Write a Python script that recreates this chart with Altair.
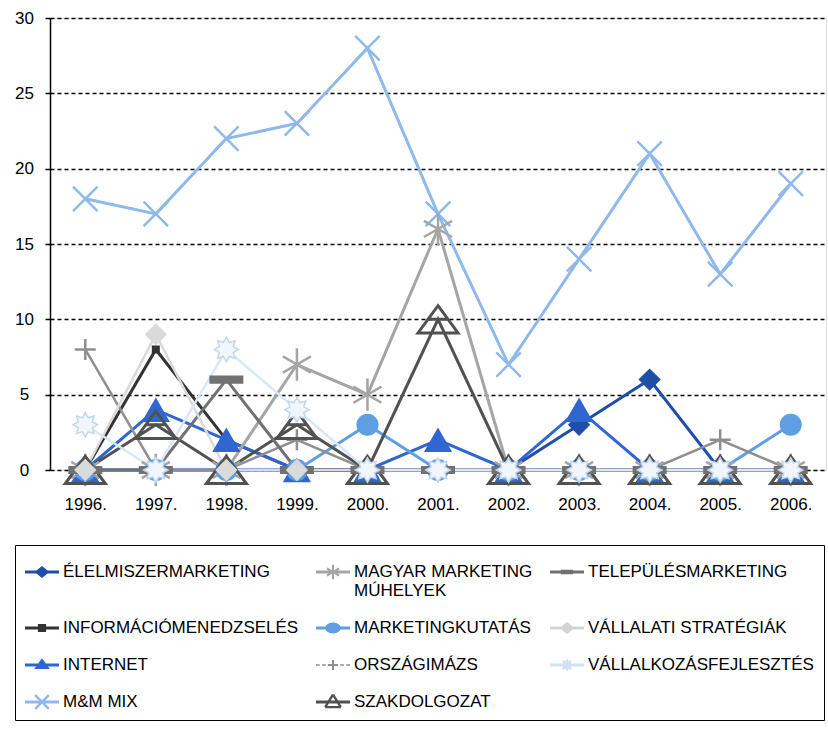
import math
import altair as alt
import pandas as pd

# ---------------- data ----------------
years = ["1996.", "1997.", "1998.", "1999.", "2000.", "2001.",
         "2002.", "2003.", "2004.", "2005.", "2006."]

elelmiszer = [0, 0, 0, 0, 0, 0, 0, 3, 6, 0, 0]
informacio = [0, 8, 2, 0, 0, 0, 0, 0, 0, 0, 0]
internet = [0, 4, 2, 0, 0, 2, 0, 4, 0, 0, 0]
mm_mix = [18, 17, 22, 23, 28, 17, 7, 14, 21, 13, 19]
magyar = [0, 0, 0, 7, 5, 16, 0, 0, 0, 0, 0]
kutatas = [0, 0, 0, 0, 3, 0, 0, 0, 0, 0, 3]
orszag = [8, 0, 0, 2, 0, 0, 0, 0, 0, 2, 0]
szakdolgozat = [0, 3, 0, 3, 0, 10, 0, 0, 0, 0, 0]
telepules = [0, 0, 6, 0, 0, 0, 0, 0, 0, 0, 0]
vallalati = [0, 9, 0, 0, 0, 0, 0, 0, 0, 0, 0]
vallalkozas = [3, 0, 8, 4, 0, 0, 0, 0, 0, 0, 0]

names = ["ÉLELMISZERMARKETING", "INFORMÁCIÓMENEDZSELÉS", "INTERNET", "M&M MIX",
         "MAGYAR MARKETING MÚHELYEK", "MARKETINGKUTATÁS", "ORSZÁGIMÁZS",
         "SZAKDOLGOZAT", "TELEPÜLÉSMARKETING", "VÁLLALATI STRATÉGIÁK",
         "VÁLLALKOZÁSFEJLESZTÉS"]
series_values = [elelmiszer, informacio, internet, mm_mix, magyar, kutatas,
                 orszag, szakdolgozat, telepules, vallalati, vallalkozas]

rows = []
for n, vals in zip(names, series_values):
    for y, v in zip(years, vals):
        rows.append({"series": n, "year": y, "value": v})
df = pd.DataFrame(rows)

# ---------------- styles ----------------
colors = {
    names[0]: "#1F4EA8",
    names[1]: "#333333",
    names[2]: "#2F66CF",
    names[3]: "#8EB9EA",
    names[4]: "#A5A5A5",
    names[5]: "#5E9FE3",
    names[6]: "#8F8F8F",
    names[7]: "#515151",
    names[8]: "#717171",
    names[9]: "#DADADA",
    names[10]: "#DCE7F5",
}
legend_colors = dict(colors)
legend_colors[names[9]] = "#D3D3D3"
legend_colors[names[10]] = "#D3E1F2"


def poly(pts):
    a = 0.0
    for i in range(len(pts)):
        x1, y1 = pts[i]
        x2, y2 = pts[(i + 1) % len(pts)]
        a += x1 * y2 - x2 * y1
    if a < 0:
        pts = pts[::-1]
    return "M" + "L".join(f"{x:.3f},{y:.3f}" for x, y in pts) + "Z"


def seg(x1, y1, x2, y2, w):
    dx, dy = x2 - x1, y2 - y1
    L = math.hypot(dx, dy)
    nx, ny = -dy / L * w, dx / L * w
    return poly([(x1 + nx, y1 + ny), (x2 + nx, y2 + ny),
                 (x2 - nx, y2 - ny), (x1 - nx, y1 - ny)])


def star_pts(ro, ri, n=8):
    pts = []
    for k in range(2 * n):
        r = ro if k % 2 == 0 else ri
        a = -math.pi / 2 + k * math.pi / n
        pts.append((r * math.cos(a), r * math.sin(a)))
    return pts


def star_path(ro, ri, n=8):
    return "M" + "L".join(f"{x:.3f},{y:.3f}" for x, y in star_pts(ro, ri, n)) + "Z"


# main chart marker shapes
X_PATH = "M-1,-1L1,1M-1,1L1,-1"
AST_PATH = "M0,-1L0,1M-0.866,-0.5L0.866,0.5M-0.866,0.5L0.866,-0.5"
PLUS_PATH = "M-1,0L1,0M0,-1L0,1"
TRI_OPEN = "M0,-0.68L1,0.68L-1,0.68Z M-0.5,0L0.5,0"
DASH_PATH = "M-1,-0.24L1,-0.24L1,0.24L-1,0.24Z"
STAR_PATH = star_path(1, 0.62)

marker = {
    names[0]: dict(shape="diamond", size=500, filled=True, color=colors[names[0]]),
    names[1]: dict(shape="square", size=64, filled=True, color=colors[names[1]]),
    names[2]: dict(shape="triangle-up", size=800, filled=True, color=colors[names[2]]),
    names[3]: dict(shape=X_PATH, size=600, filled=False, color=colors[names[3]], strokeWidth=2.5),
    names[4]: dict(shape=AST_PATH, size=1050, filled=False, color=colors[names[4]], strokeWidth=2.5),
    names[5]: dict(shape="circle", size=484, filled=True, color=colors[names[5]]),
    names[6]: dict(shape=PLUS_PATH, size=441, filled=False, color=colors[names[6]], strokeWidth=2.5),
    names[7]: dict(shape=TRI_OPEN, size=1600, filled=False, color=colors[names[7]], strokeWidth=3),
    names[8]: dict(shape=DASH_PATH, size=1156, filled=True, color=colors[names[8]]),
    names[9]: dict(shape="diamond", size=500, filled=True, color=colors[names[9]]),
    names[10]: dict(shape=STAR_PATH, size=600, filled=True, fill="#F1F6FC", stroke="#C3D6EE", strokeWidth=1.5),
}
line_width = {n: 3 for n in names}
line_width[names[6]] = 2.5
line_width[names[9]] = 2.5
line_width[names[10]] = 2.5

# legend symbols (filled polygons in a [-1,1] box)
LINE = seg(-1, 0, 1, 0, 0.09)
leg_paths = {
    names[0]: LINE + poly([(-0.44, 0), (0, -0.36), (0.44, 0), (0, 0.36)]),
    names[1]: LINE + poly([(-0.24, -0.24), (0.24, -0.24), (0.24, 0.24), (-0.24, 0.24)]),
    names[2]: LINE + poly([(0, -0.4), (0.46, 0.24), (-0.46, 0.24)]),
    names[3]: LINE + seg(-0.4, -0.4, 0.4, 0.4, 0.07) + seg(-0.4, 0.4, 0.4, -0.4, 0.07),
    names[4]: LINE + seg(0, -0.42, 0, 0.42, 0.06) + seg(-0.36, -0.21, 0.36, 0.21, 0.06)
              + seg(-0.36, 0.21, 0.36, -0.21, 0.06),
    names[5]: LINE + poly([(0.46 * math.cos(2 * math.pi * k / 24), 0.32 * math.sin(2 * math.pi * k / 24))
                           for k in range(24)]),
    names[6]: seg(-1, 0, -0.78, 0, 0.05) + seg(-0.64, 0, -0.42, 0, 0.05)
              + seg(0.42, 0, 0.64, 0, 0.05) + seg(0.78, 0, 1, 0, 0.05)
              + seg(-0.3, 0, 0.3, 0, 0.06) + seg(0, -0.3, 0, 0.3, 0.06),
    names[7]: LINE + seg(0, -0.44, 0.46, 0.3, 0.07) + seg(0.46, 0.3, -0.46, 0.3, 0.07)
              + seg(-0.46, 0.3, 0, -0.44, 0.07),
    names[8]: LINE + poly([(-0.36, -0.13), (0.36, -0.13), (0.36, 0.13), (-0.36, 0.13)]),
    names[9]: LINE + poly([(-0.44, 0), (0, -0.36), (0.44, 0), (0, 0.36)]),
    names[10]: LINE + poly(star_pts(0.4, 0.25)),
}

FONT = "Liberation Sans"

x_enc = alt.X("year:N", sort=years, scale=alt.Scale(domain=years),
              axis=alt.Axis(title=None, labelAngle=0, labelFont=FONT, labelFontSize=17,
                            labelColor="black", ticks=False, tickSize=0, domain=False,
                            grid=False, labelPadding=26))
y_enc = alt.Y("value:Q", scale=alt.Scale(domain=[0, 30], nice=False),
              axis=alt.Axis(title=None, values=[0, 5, 10, 15, 20, 25, 30], labelFont=FONT,
                            labelFontSize=17, labelColor="black", labelAlign="center",
                            labelPadding=21, tickSize=5, tickColor="black", tickWidth=1.5,
                            domainColor="black", domainWidth=1.5, gridColor="black",
                            gridDash=[4, 3], gridWidth=1.3))

base = alt.Chart(df).encode(x=x_enc, y=y_enc)

line_layers = []
point_layers = []
for n in names:
    sel = base.transform_filter(alt.FieldEqualPredicate(field="series", equal=n))
    line_layers.append(sel.mark_line(color=colors[n], strokeWidth=line_width[n]))
    m = dict(marker[n])
    point_layers.append(sel.mark_point(opacity=1, **m))

label_expr = (
    "datum.label == 'MAGYAR MARKETING MÚHELYEK' ? ['MAGYAR MARKETING', 'MÚHELYEK'] : "
    "(datum.label == 'ÉLELMISZERMARKETING' || datum.label == 'TELEPÜLÉSMARKETING') ? "
    "[datum.label, ' '] : datum.label"
)

leg = alt.Legend(
    title=None, orient="none", legendX=-35, legendY=527, columns=3,
    symbolSize=1156, symbolStrokeWidth=0, symbolOpacity=1,
    labelFont=FONT, labelFontSize=17, labelColor="black", labelLimit=400,
    labelOffset=4, columnPadding=17, rowPadding=12, padding=10,
    strokeColor="black", fillColor="white", gridAlign="each",
    labelExpr=label_expr,
)

legend_layer = alt.Chart(pd.DataFrame({"series": names})).transform_filter(
    "false"
).mark_point(filled=True, size=1156, opacity=1, strokeWidth=0).encode(
    color=alt.Color("series:N", scale=alt.Scale(domain=names,
                                                range=[legend_colors[n] for n in names]),
                    legend=leg),
    shape=alt.Shape("series:N", scale=alt.Scale(domain=names,
                                                range=[leg_paths[n] for n in names]),
                    legend=leg),
)

chart = alt.layer(*line_layers, *point_layers, legend_layer).properties(
    width=776, height=452,
    padding={"left": 14, "top": 9, "right": 2, "bottom": 4},
).configure_view(
    stroke="black", strokeWidth=1.5
).configure_legend(
    strokeWidth=1.5
).configure(background="white")

chart.save("out.html", embed_options={"renderer": "svg", "actions": False})
